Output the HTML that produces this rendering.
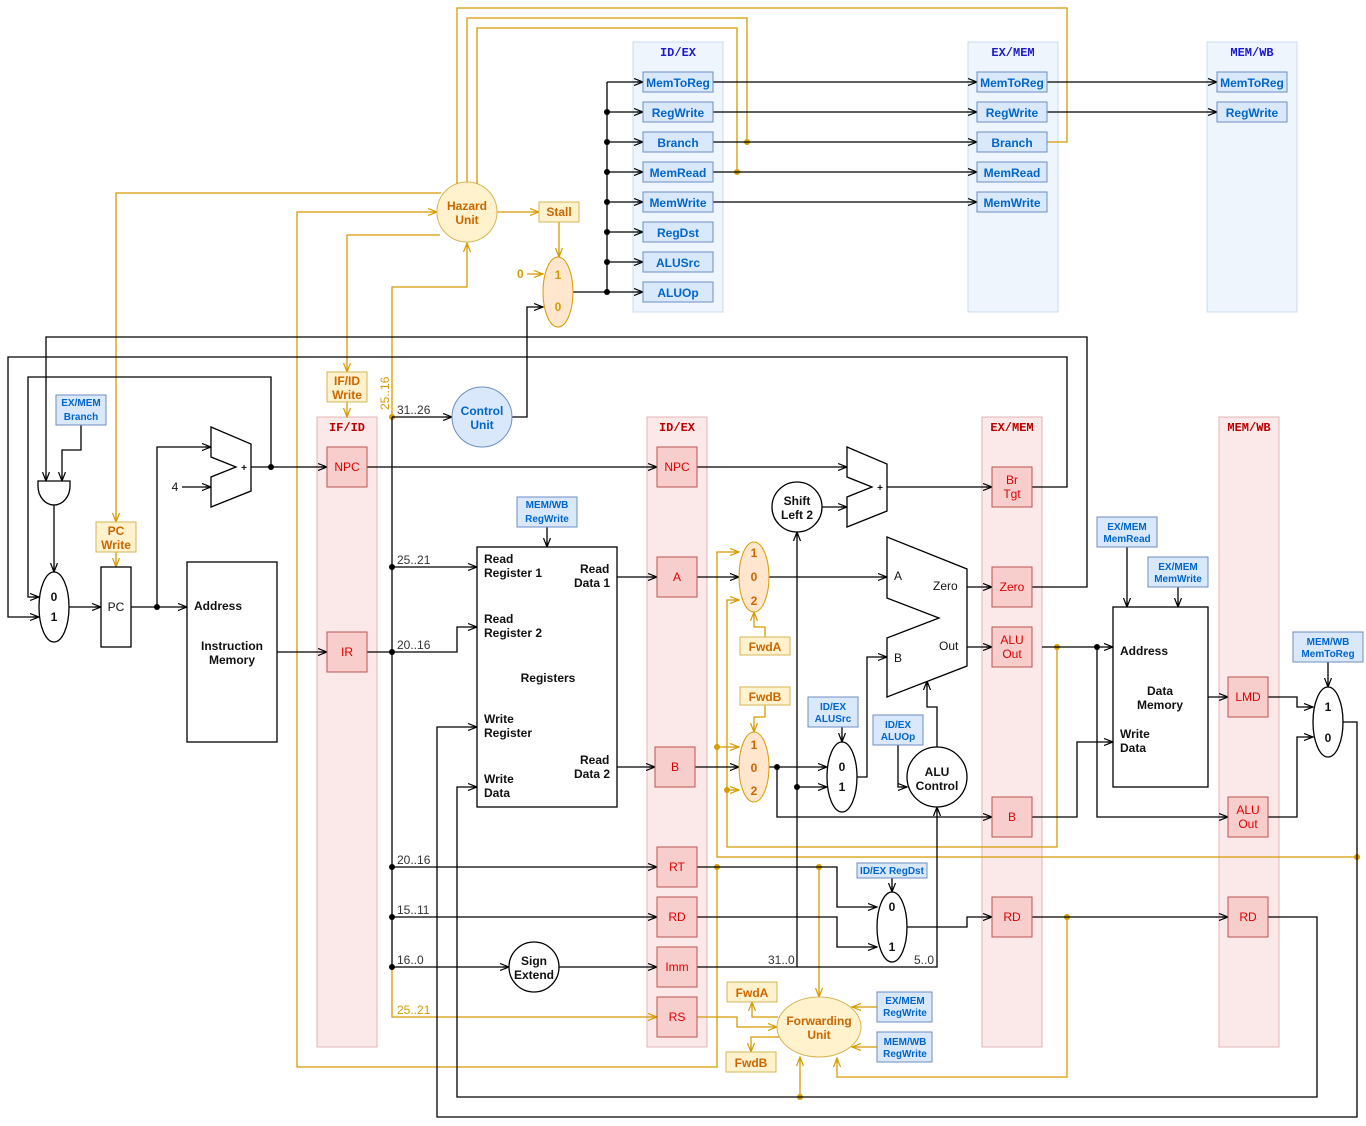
<!DOCTYPE html>
<html><head><meta charset="utf-8">
<style>
html,body{margin:0;padding:0;background:#fff;}
svg{display:block;}
text{font-family:"Liberation Sans",Arial,sans-serif;}
.k{stroke:#000;stroke-width:1.3;fill:none;}
.o{stroke:#d79b00;stroke-width:1.3;fill:none;}
.pb{fill:#f8cecc;stroke:#b85450;stroke-width:1;}
.pt{fill:#d00;font-size:12px;text-anchor:middle;}
.panel{fill:#fbe9e9;stroke:#e2b4b4;stroke-width:1;}
.ptitle{fill:#b00;font-family:"Liberation Mono",monospace;font-weight:bold;font-size:12px;text-anchor:middle;}
.bpanel{fill:#eef5fd;stroke:#c9dcf0;stroke-width:1;}
.btitle{fill:#1a1acc;font-family:"Liberation Mono",monospace;font-weight:bold;font-size:12px;text-anchor:middle;}
.bb{fill:#dae8fc;stroke:#6c8ebf;stroke-width:1;}
.bt{fill:#0066cc;font-size:12px;font-weight:bold;text-anchor:middle;}
.bs{fill:#0066cc;font-size:10px;font-weight:bold;text-anchor:middle;}
.ob{fill:#fff2cc;stroke:#d6b656;stroke-width:1;}
.ot{fill:#cc6600;font-size:12px;font-weight:bold;text-anchor:middle;}
.t{fill:#111;font-size:12px;}
.tb{fill:#111;font-size:12px;font-weight:bold;}
.tc{fill:#111;font-size:12px;text-anchor:middle;}
.tbc{fill:#111;font-size:12px;font-weight:bold;text-anchor:middle;}
.s{fill:#333;font-size:12px;}
.wo{fill:#fff;stroke:#000;stroke-width:1.3;}
</style></head><body>
<svg width="1366" height="1126" viewBox="0 0 1366 1126" xmlns="http://www.w3.org/2000/svg">
<defs>
<marker id="ak" markerWidth="10" markerHeight="8" refX="9" refY="4" orient="auto" markerUnits="userSpaceOnUse"><path d="M0,0.5 L9,4 L0,7.5 M3,4 L9,4" fill="none" stroke="#000" stroke-width="1.2"/></marker>
<marker id="ao" markerWidth="10" markerHeight="8" refX="9" refY="4" orient="auto" markerUnits="userSpaceOnUse"><path d="M0,0.5 L9,4 L0,7.5 M3,4 L9,4" fill="none" stroke="#d79b00" stroke-width="1.2"/></marker>
</defs>

<rect class="bpanel" x="633" y="42" width="90" height="270"/>
<rect class="bpanel" x="968" y="42" width="90" height="270"/>
<rect class="bpanel" x="1207" y="42" width="90" height="270"/>
<text class="btitle" x="678" y="56">ID/EX</text>
<text class="btitle" x="1013" y="56">EX/MEM</text>
<text class="btitle" x="1252" y="56">MEM/WB</text>

<rect class="panel" x="317" y="417" width="60" height="630"/>
<rect class="panel" x="647" y="417" width="60" height="630"/>
<rect class="panel" x="982" y="417" width="60" height="630"/>
<rect class="panel" x="1219" y="417" width="60" height="630"/>
<text class="ptitle" x="347" y="431">IF/ID</text>
<text class="ptitle" x="677" y="431">ID/EX</text>
<text class="ptitle" x="1012" y="431">EX/MEM</text>
<text class="ptitle" x="1249" y="431">MEM/WB</text>

<g class="o">
<path d="M457,182 V8 H1067 V142 H1047" marker-start="url(#ao)"/>
<path d="M467,182 V18 H747 V142" marker-start="url(#ao)"/>
<path d="M477,182 V28 H737 V172" marker-start="url(#ao)"/>
<path d="M497,212 H539" marker-end="url(#ao)"/>
<path d="M559,222 V257" marker-end="url(#ao)"/>
<path d="M527,274 H543" marker-end="url(#ao)"/>
<path d="M441,193 H116 V522" marker-end="url(#ao)"/>
<path d="M116,552 V567" marker-end="url(#ao)"/>
<path d="M440,235 H347 V372" marker-end="url(#ao)"/>
<path d="M347,402 V417" marker-end="url(#ao)"/>
<path d="M717,867 V1067 H297 V212 H437" marker-end="url(#ao)"/>
<path d="M392,417 V287 H467 V243" marker-end="url(#ao)"/>
<path d="M392,967 V1017 H657" marker-end="url(#ao)"/>
<path d="M819,867 V997" marker-end="url(#ao)"/>
<path d="M697,1017 H737 V1027 H777" marker-end="url(#ao)"/>
<path d="M778,1017 H752 V1002" marker-end="url(#ao)"/>
<path d="M780,1037 H751 V1052" marker-end="url(#ao)"/>
<path d="M877,1007 H852" marker-end="url(#ao)"/>
<path d="M877,1047 H852" marker-end="url(#ao)"/>
<path d="M1067,917 V1077 H837 V1058" marker-end="url(#ao)"/>
<path d="M800,1097 V1057" marker-end="url(#ao)"/>
<path d="M1357,857 H717 V552 H739" marker-end="url(#ao)"/>
<path d="M717,747 H739" marker-end="url(#ao)"/>
<path d="M1057,647 V847 H727 V600 H739" marker-end="url(#ao)"/>
<path d="M727,790 H739" marker-end="url(#ao)"/>
<path d="M765,637 V627 H754 V612" marker-end="url(#ao)"/>
<path d="M765,705 V717 H754 V732" marker-end="url(#ao)"/>
</g>
<g fill="#d79b00">
<circle cx="747" cy="142" r="3"/><circle cx="737" cy="172" r="3"/>
<circle cx="392" cy="417" r="3"/><circle cx="717" cy="867" r="3"/>
<circle cx="819" cy="867" r="3"/><circle cx="1067" cy="917" r="3"/>
<circle cx="800" cy="1097" r="3"/><circle cx="1357" cy="857" r="3"/>
<circle cx="717" cy="747" r="3"/><circle cx="1057" cy="647" r="3"/>
<circle cx="727" cy="790" r="3"/>
</g>

<g class="k">
<path d="M69,607 H101" marker-end="url(#ak)"/>
<path d="M131,607 H187" marker-end="url(#ak)"/>
<path d="M157,607 V447 H211" marker-end="url(#ak)"/>
<path d="M182,487 H211" marker-end="url(#ak)"/>
<path d="M251,467 H327" marker-end="url(#ak)"/>
<path d="M271,467 V377 H28 V597 H39" marker-end="url(#ak)"/>
<path d="M277,652 H327" marker-end="url(#ak)"/>
<path d="M367,652 H392 M392,417 V967"/>
<path d="M392,417 H452" marker-end="url(#ak)"/>
<path d="M392,567 H477" marker-end="url(#ak)"/>
<path d="M392,652 H457 V627 H477" marker-end="url(#ak)"/>
<path d="M392,867 H657" marker-end="url(#ak)"/>
<path d="M392,917 H657" marker-end="url(#ak)"/>
<path d="M392,967 H509" marker-end="url(#ak)"/>
<path d="M559,967 H657" marker-end="url(#ak)"/>
<path d="M367,467 H657" marker-end="url(#ak)"/>
<path d="M697,467 H847" marker-end="url(#ak)"/>
<path d="M822,507 H847" marker-end="url(#ak)"/>
<path d="M697,967 H937 V807" marker-end="url(#ak)"/>
<path d="M797,967 V532" marker-end="url(#ak)"/>
<path d="M797,787 H827" marker-end="url(#ak)"/>
<path d="M887,487 H992" marker-end="url(#ak)"/>
<path d="M697,577 H739" marker-end="url(#ak)"/>
<path d="M769,577 H887" marker-end="url(#ak)"/>
<path d="M617,577 H657" marker-end="url(#ak)"/>
<path d="M617,767 H655" marker-end="url(#ak)"/>
<path d="M695,767 H739" marker-end="url(#ak)"/>
<path d="M769,767 H827" marker-end="url(#ak)"/>
<path d="M777,767 V817 H992" marker-end="url(#ak)"/>
<path d="M857,777 H867 V657 H887" marker-end="url(#ak)"/>
<path d="M898,745 V787 H907" marker-end="url(#ak)"/>
<path d="M937,747 V707 H927 V681" marker-end="url(#ak)"/>
<path d="M842,727 V742" marker-end="url(#ak)"/>
<path d="M967,587 H992" marker-end="url(#ak)"/>
<path d="M967,647 H992" marker-end="url(#ak)"/>
<path d="M1032,587 H1087 V337 H46 V481" marker-end="url(#ak)"/>
<path d="M1032,487 H1067 V357 H8 V617 H39" marker-end="url(#ak)"/>
<path d="M81,425 V450 H62 V481" marker-end="url(#ak)"/>
<path d="M54,505 V572" marker-end="url(#ak)"/>
<path d="M1042,647 H1113" marker-end="url(#ak)"/>
<path d="M1097,647 V817 H1228" marker-end="url(#ak)"/>
<path d="M1032,817 H1077 V742 H1113" marker-end="url(#ak)"/>
<path d="M1208,697 H1228" marker-end="url(#ak)"/>
<path d="M1268,697 H1297 V707 H1313" marker-end="url(#ak)"/>
<path d="M1268,817 H1297 V737 H1313" marker-end="url(#ak)"/>
<path d="M1343,722 H1357 V1117 H437 V727 H477" marker-end="url(#ak)"/>
<path d="M1127,547 V607" marker-end="url(#ak)"/>
<path d="M1178,587 V607" marker-end="url(#ak)"/>
<path d="M1328,662 V687" marker-end="url(#ak)"/>
<path d="M697,867 H837 V907 H877" marker-end="url(#ak)"/>
<path d="M697,917 H837 V947 H877" marker-end="url(#ak)"/>
<path d="M907,927 H967 V917 H992" marker-end="url(#ak)"/>
<path d="M892,877 V892" marker-end="url(#ak)"/>
<path d="M1032,917 H1228" marker-end="url(#ak)"/>
<path d="M1268,917 H1317 V1097 H457 V787 H477" marker-end="url(#ak)"/>
<path d="M547,527 V547" marker-end="url(#ak)"/>
<path d="M512,417 H527 V307 H543" marker-end="url(#ak)"/>
<path d="M573,292 H607 M607,82 V292"/>
<path d="M607,82 H643" marker-end="url(#ak)"/>
<path d="M607,112 H643" marker-end="url(#ak)"/>
<path d="M607,142 H643" marker-end="url(#ak)"/>
<path d="M607,172 H643" marker-end="url(#ak)"/>
<path d="M607,202 H643" marker-end="url(#ak)"/>
<path d="M607,232 H643" marker-end="url(#ak)"/>
<path d="M607,262 H643" marker-end="url(#ak)"/>
<path d="M607,292 H643" marker-end="url(#ak)"/>
<path d="M713,82 H977" marker-end="url(#ak)"/>
<path d="M713,112 H977" marker-end="url(#ak)"/>
<path d="M713,142 H977" marker-end="url(#ak)"/>
<path d="M713,172 H977" marker-end="url(#ak)"/>
<path d="M713,202 H977" marker-end="url(#ak)"/>
<path d="M1047,82 H1217" marker-end="url(#ak)"/>
<path d="M1047,112 H1217" marker-end="url(#ak)"/>
</g>
<g fill="#000">
<circle cx="157" cy="607" r="3"/><circle cx="271" cy="467" r="3"/>
<circle cx="392" cy="567" r="3"/><circle cx="392" cy="652" r="3"/>
<circle cx="392" cy="867" r="3"/><circle cx="392" cy="917" r="3"/>
<circle cx="392" cy="967" r="3"/><circle cx="777" cy="767" r="3"/>
<circle cx="797" cy="787" r="3"/><circle cx="1097" cy="647" r="3"/>
<circle cx="607" cy="112" r="3"/><circle cx="607" cy="142" r="3"/>
<circle cx="607" cy="172" r="3"/><circle cx="607" cy="202" r="3"/>
<circle cx="607" cy="232" r="3"/><circle cx="607" cy="262" r="3"/>
<circle cx="607" cy="292" r="3"/>
</g>

<text class="s" x="397" y="414">31..26</text>
<text class="s" x="397" y="564">25..21</text>
<text class="s" x="397" y="649">20..16</text>
<text class="s" x="397" y="864">20..16</text>
<text class="s" x="397" y="914">15..11</text>
<text class="s" x="397" y="964">16..0</text>
<text x="397" y="1014" style="fill:#d79b00;font-size:12px">25..21</text>
<text x="389" y="410" transform="rotate(-90 389 410)" style="fill:#d79b00;font-size:12px">25..16</text>
<text class="s" x="768" y="964">31..0</text>
<text class="s" x="914" y="964">5..0</text>
<text class="tc" x="175" y="491">4</text>
<text x="517" y="278" style="fill:#d79b00;font-size:12px;font-weight:bold">0</text>

<g>
<rect class="bb" x="643" y="72" width="70" height="20"/><text class="bt" x="678" y="87">MemToReg</text>
<rect class="bb" x="643" y="102" width="70" height="20"/><text class="bt" x="678" y="117">RegWrite</text>
<rect class="bb" x="643" y="132" width="70" height="20"/><text class="bt" x="678" y="147">Branch</text>
<rect class="bb" x="643" y="162" width="70" height="20"/><text class="bt" x="678" y="177">MemRead</text>
<rect class="bb" x="643" y="192" width="70" height="20"/><text class="bt" x="678" y="207">MemWrite</text>
<rect class="bb" x="643" y="222" width="70" height="20"/><text class="bt" x="678" y="237">RegDst</text>
<rect class="bb" x="643" y="252" width="70" height="20"/><text class="bt" x="678" y="267">ALUSrc</text>
<rect class="bb" x="643" y="282" width="70" height="20"/><text class="bt" x="678" y="297">ALUOp</text>
<rect class="bb" x="977" y="72" width="70" height="20"/><text class="bt" x="1012" y="87">MemToReg</text>
<rect class="bb" x="977" y="102" width="70" height="20"/><text class="bt" x="1012" y="117">RegWrite</text>
<rect class="bb" x="977" y="132" width="70" height="20"/><text class="bt" x="1012" y="147">Branch</text>
<rect class="bb" x="977" y="162" width="70" height="20"/><text class="bt" x="1012" y="177">MemRead</text>
<rect class="bb" x="977" y="192" width="70" height="20"/><text class="bt" x="1012" y="207">MemWrite</text>
<rect class="bb" x="1217" y="72" width="70" height="20"/><text class="bt" x="1252" y="87">MemToReg</text>
<rect class="bb" x="1217" y="102" width="70" height="20"/><text class="bt" x="1252" y="117">RegWrite</text>
</g>

<rect class="bb" x="56" y="395" width="50" height="30"/><text class="bs" x="81" y="406">EX/MEM</text><text class="bs" x="81" y="420">Branch</text>
<rect class="bb" x="517" y="497" width="60" height="30"/><text class="bs" x="547" y="508">MEM/WB</text><text class="bs" x="547" y="522">RegWrite</text>
<rect class="bb" x="808" y="697" width="50" height="30"/><text class="bs" x="833" y="710">ID/EX</text><text class="bs" x="833" y="722">ALUSrc</text>
<rect class="bb" x="873" y="715" width="50" height="30"/><text class="bs" x="898" y="728">ID/EX</text><text class="bs" x="898" y="740">ALUOp</text>
<rect class="bb" x="857" y="863" width="70" height="15"/><text class="bs" x="892" y="874">ID/EX RegDst</text>
<rect class="bb" x="1097" y="517" width="60" height="30"/><text class="bs" x="1127" y="530">EX/MEM</text><text class="bs" x="1127" y="542">MemRead</text>
<rect class="bb" x="1148" y="557" width="60" height="30"/><text class="bs" x="1178" y="570">EX/MEM</text><text class="bs" x="1178" y="582">MemWrite</text>
<rect class="bb" x="1293" y="632" width="70" height="30"/><text class="bs" x="1328" y="645">MEM/WB</text><text class="bs" x="1328" y="657">MemToReg</text>
<rect class="bb" x="877" y="992" width="55" height="30"/><text class="bs" x="905" y="1004">EX/MEM</text><text class="bs" x="905" y="1016">RegWrite</text>
<rect class="bb" x="877" y="1032" width="55" height="30"/><text class="bs" x="905" y="1045">MEM/WB</text><text class="bs" x="905" y="1057">RegWrite</text>

<rect class="ob" x="539" y="202" width="40" height="20"/><text class="ot" x="559" y="216">Stall</text>
<rect class="ob" x="96" y="522" width="40" height="30"/><text class="ot" x="116" y="535">PC</text><text class="ot" x="116" y="549">Write</text>
<rect class="ob" x="327" y="372" width="40" height="30"/><text class="ot" x="347" y="385">IF/ID</text><text class="ot" x="347" y="399">Write</text>
<rect class="ob" x="740" y="637" width="50" height="18"/><text class="ot" x="765" y="651">FwdA</text>
<rect class="ob" x="740" y="687" width="50" height="18"/><text class="ot" x="765" y="701">FwdB</text>
<rect class="ob" x="727" y="982" width="50" height="20"/><text class="ot" x="752" y="997">FwdA</text>
<rect class="ob" x="726" y="1052" width="50" height="20"/><text class="ot" x="751" y="1067">FwdB</text>

<circle cx="467" cy="212" r="30" fill="#fff2cc" stroke="#d6b656"/>
<text class="ot" x="467" y="210">Hazard</text><text class="ot" x="467" y="224">Unit</text>
<ellipse cx="819" cy="1027" rx="42" ry="30" fill="#fff2cc" stroke="#d6b656"/>
<text class="ot" x="819" y="1025">Forwarding</text><text class="ot" x="819" y="1039">Unit</text>
<circle cx="482" cy="417" r="30" fill="#dae8fc" stroke="#6c8ebf"/>
<text class="bt" x="482" y="415">Control</text><text class="bt" x="482" y="429">Unit</text>

<ellipse cx="558" cy="292" rx="15" ry="35" fill="#ffe6cc" stroke="#d79b00"/>
<text class="ot" x="558" y="279" style="fill:#d79b00">1</text><text class="ot" x="558" y="311" style="fill:#d79b00">0</text>
<ellipse cx="754" cy="577" rx="15" ry="35" fill="#ffe6cc" stroke="#d79b00"/>
<text class="ot" x="754" y="557">1</text><text class="ot" x="754" y="581">0</text><text class="ot" x="754" y="605">2</text>
<ellipse cx="754" cy="767" rx="15" ry="35" fill="#ffe6cc" stroke="#d79b00"/>
<text class="ot" x="754" y="749">1</text><text class="ot" x="754" y="772">0</text><text class="ot" x="754" y="795">2</text>

<ellipse class="wo" cx="54" cy="607" rx="15" ry="35"/>
<text class="tbc" x="54" y="601">0</text><text class="tbc" x="54" y="621">1</text>
<ellipse class="wo" cx="842" cy="777" rx="15" ry="35"/>
<text class="tbc" x="842" y="771">0</text><text class="tbc" x="842" y="791">1</text>
<ellipse class="wo" cx="892" cy="927" rx="15" ry="35"/>
<text class="tbc" x="892" y="911">0</text><text class="tbc" x="892" y="951">1</text>
<ellipse class="wo" cx="1328" cy="722" rx="15" ry="35"/>
<text class="tbc" x="1328" y="711">1</text><text class="tbc" x="1328" y="742">0</text>

<path class="wo" d="M38,481 H70 V486 A16,19 0 0 1 38,486 Z"/>

<rect class="wo" x="101" y="567" width="30" height="80"/><text class="tc" x="116" y="611">PC</text>
<rect class="wo" x="187" y="562" width="90" height="180"/>
<text class="tb" x="194" y="610">Address</text>
<text class="tbc" x="232" y="650">Instruction</text><text class="tbc" x="232" y="664">Memory</text>
<rect class="wo" x="477" y="547" width="140" height="260"/>
<text class="tb" x="484" y="563">Read</text><text class="tb" x="484" y="577">Register 1</text>
<text class="tb" x="580" y="573">Read</text><text class="tb" x="574" y="587">Data 1</text>
<text class="tb" x="484" y="623">Read</text><text class="tb" x="484" y="637">Register 2</text>
<text class="tbc" x="548" y="682">Registers</text>
<text class="tb" x="484" y="723">Write</text><text class="tb" x="484" y="737">Register</text>
<text class="tb" x="580" y="764">Read</text><text class="tb" x="574" y="778">Data 2</text>
<text class="tb" x="484" y="783">Write</text><text class="tb" x="484" y="797">Data</text>
<rect class="wo" x="1113" y="607" width="95" height="180"/>
<text class="tb" x="1120" y="655">Address</text>
<text class="tbc" x="1160" y="695">Data</text><text class="tbc" x="1160" y="709">Memory</text>
<text class="tb" x="1120" y="738">Write</text><text class="tb" x="1120" y="752">Data</text>

<path class="wo" d="M211,427 L251,444 L251,491 L211,507 L211,477 L236,467 L211,457 Z"/>
<text class="tbc" x="244" y="471" style="font-size:10px">+</text>
<path class="wo" d="M847,447 L887,464 L887,511 L847,527 L847,497 L872,487 L847,477 Z"/>
<text class="tbc" x="880" y="491" style="font-size:10px">+</text>
<path class="wo" d="M887,537 L967,569 L967,666 L887,697 L887,638 L939,618 L887,598 Z"/>
<text class="t" x="894" y="580">A</text><text class="t" x="894" y="662">B</text>
<text class="t" x="933" y="590">Zero</text><text class="t" x="939" y="650">Out</text>

<circle class="wo" cx="797" cy="507" r="25"/>
<text class="tbc" x="797" y="505">Shift</text><text class="tbc" x="797" y="519">Left 2</text>
<circle class="wo" cx="534" cy="967" r="25"/>
<text class="tbc" x="534" y="965">Sign</text><text class="tbc" x="534" y="979">Extend</text>
<circle class="wo" cx="937" cy="777" r="30"/>
<text class="tbc" x="937" y="776">ALU</text><text class="tbc" x="937" y="790">Control</text>

<rect class="pb" x="327" y="447" width="40" height="40"/><text class="pt" x="347" y="471">NPC</text>
<rect class="pb" x="327" y="632" width="40" height="40"/><text class="pt" x="347" y="656">IR</text>
<rect class="pb" x="657" y="447" width="40" height="40"/><text class="pt" x="677" y="471">NPC</text>
<rect class="pb" x="657" y="557" width="40" height="40"/><text class="pt" x="677" y="581">A</text>
<rect class="pb" x="655" y="747" width="40" height="40"/><text class="pt" x="675" y="771">B</text>
<rect class="pb" x="657" y="847" width="40" height="40"/><text class="pt" x="677" y="871">RT</text>
<rect class="pb" x="657" y="897" width="40" height="40"/><text class="pt" x="677" y="921">RD</text>
<rect class="pb" x="657" y="947" width="40" height="40"/><text class="pt" x="677" y="971">Imm</text>
<rect class="pb" x="657" y="997" width="40" height="40"/><text class="pt" x="677" y="1021">RS</text>
<rect class="pb" x="992" y="467" width="40" height="40"/><text class="pt" x="1012" y="484">Br</text><text class="pt" x="1012" y="498">Tgt</text>
<rect class="pb" x="992" y="567" width="40" height="40"/><text class="pt" x="1012" y="591">Zero</text>
<rect class="pb" x="992" y="627" width="40" height="40"/><text class="pt" x="1012" y="644">ALU</text><text class="pt" x="1012" y="658">Out</text>
<rect class="pb" x="992" y="797" width="40" height="40"/><text class="pt" x="1012" y="821">B</text>
<rect class="pb" x="992" y="897" width="40" height="40"/><text class="pt" x="1012" y="921">RD</text>
<rect class="pb" x="1228" y="677" width="40" height="40"/><text class="pt" x="1248" y="701">LMD</text>
<rect class="pb" x="1228" y="797" width="40" height="40"/><text class="pt" x="1248" y="814">ALU</text><text class="pt" x="1248" y="828">Out</text>
<rect class="pb" x="1228" y="897" width="40" height="40"/><text class="pt" x="1248" y="921">RD</text>
</svg>
</body></html>
